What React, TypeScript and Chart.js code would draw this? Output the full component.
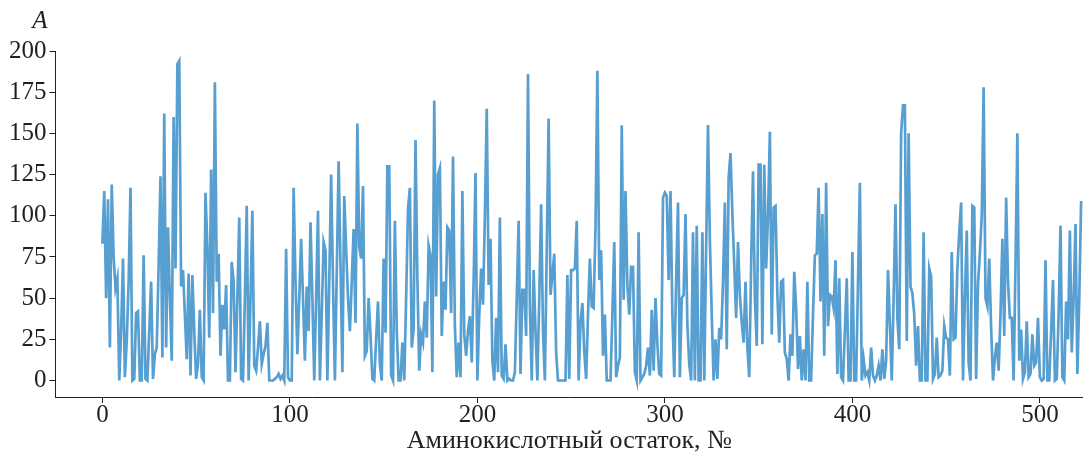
import { useEffect, useRef } from "react";
import { Chart, registerables } from "chart.js";

Chart.register(...registerables);

// Absorbance-like value per amino-acid residue (index = residue number)
const values: number[] = [
  83, 115, 50, 110, 20, 119, 75, 56, 62, 0,
  30, 74, 2, 24, 60, 117, 0, 1, 41, 42,
  0, 0, 76, 1, 0, 30, 60, 1, 16, 20,
  70, 124, 14, 162, 20, 93, 50, 12, 160, 68,
  192, 194, 57, 67, 40, 13, 65, 3, 64, 30,
  1, 10, 43, 2, 0, 114, 81, 26, 128, 41,
  181, 60, 77, 15, 46, 31, 58, 0, 0, 72,
  60, 5, 50, 99, 1, 0, 50, 106, 0, 50,
  103, 9, 6, 20, 36, 10, 16, 21, 35, 0,
  0, 0, 1, 2, 4, 1, 3, 0, 80, 2,
  0, 0, 117, 60, 16, 50, 86, 50, 12, 57,
  30, 96, 50, 0, 50, 103, 0, 40, 84, 79,
  0, 60, 125, 60, 0, 65, 133, 70, 5, 112,
  80, 50, 30, 60, 92, 35, 156, 81, 74, 118,
  15, 18, 50, 28, 1, 0, 25, 48, 10, 0,
  74, 29, 130, 130, 3, 0, 97, 30, 0, 0,
  23, 0, 50, 104, 117, 20, 31, 146, 62, 6,
  28, 23, 48, 26, 82, 76, 5, 170, 51, 125,
  129, 27, 60, 43, 93, 91, 41, 136, 33, 2,
  23, 2, 115, 28, 15, 30, 39, 11, 60, 126,
  0, 40, 68, 46, 100, 165, 58, 86, 12, 0,
  38, 5, 99, 3, 1, 22, 0, 1, 0, 0,
  5, 50, 97, 4, 55, 55, 27, 186, 45, 0,
  67, 30, 0, 50, 107, 30, 0, 80, 159, 52,
  64, 77, 17, 0, 0, 0, 0, 0, 64, 1,
  67, 67, 68, 97, 0, 35, 47, 18, 1, 40,
  74, 45, 44, 93, 188, 61, 79, 15, 40, 0,
  0, 0, 40, 84, 2, 9, 14, 155, 49, 115,
  58, 40, 69, 69, 5, 0, 90, 0, 2, 4,
  9, 20, 3, 43, 6, 50, 22, 4, 3, 111,
  114, 112, 61, 115, 40, 2, 60, 108, 2, 50,
  52, 101, 34, 10, 0, 90, 0, 94, 0, 0,
  90, 0, 80, 155, 85, 40, 0, 25, 1, 32,
  25, 60, 108, 19, 123, 138, 101, 70, 38, 84,
  52, 35, 23, 60, 20, 2, 70, 127, 50, 21,
  131, 131, 22, 131, 68, 100, 151, 28, 105, 106,
  52, 23, 60, 61, 17, 13, 0, 28, 15, 66,
  44, 7, 27, 0, 19, 0, 60, 0, 0, 40,
  76, 77, 117, 48, 101, 15, 120, 33, 52, 51,
  44, 73, 4, 62, 2, 0, 30, 62, 0, 0,
  78, 0, 0, 60, 120, 0, 13, 3, 5, 0,
  20, 3, 0, 3, 9, 0, 19, 1, 12, 67,
  34, 0, 50, 107, 38, 19, 150, 167, 167, 24,
  150, 57, 53, 40, 9, 33, 0, 0, 90, 0,
  0, 68, 63, 1, 4, 26, 2, 3, 6, 33,
  26, 25, 3, 78, 25, 26, 68, 90, 108, 0,
  50, 91, 11, 0, 106, 105, 1, 58, 77, 100,
  178, 50, 45, 74, 32, 0, 14, 23, 6, 40,
  86, 27, 111, 60, 38, 38, 0, 70, 150, 12,
  31, 1, 5, 36, 2, 4, 28, 9, 11, 38,
  2, 0, 1, 73, 0, 0, 30, 61, 0, 1,
  40, 94, 2, 0, 48, 25, 91, 17, 50, 95,
  4, 50, 109,
];

const xTickValues = [0, 100, 200, 300, 400, 500];
const yTickValues = [0, 25, 50, 75, 100, 125, 150, 175, 200];
const xTitle = "Аминокислотный остаток, №";
const yTitle = "A";

const FONT = '"Liberation Serif", "Times New Roman", serif';
const INK = "#231f20";

export default function App() {
  const ref = useRef<HTMLCanvasElement>(null);

  useEffect(() => {
    if (!ref.current) return;
    const yTitlePlugin = {
      id: "yTitleA",
      afterDraw(chart: any) {
        const { ctx, chartArea } = chart;
        ctx.save();
        ctx.font = `italic 25px ${FONT}`;
        ctx.fillStyle = INK;
        ctx.textAlign = "right";
        ctx.textBaseline = "alphabetic";
        ctx.fillText(yTitle, chartArea.left - 8, chartArea.top - 23);
        ctx.restore();
      },
    };

    const chart = new Chart(ref.current, {
      type: "line",
      data: {
        datasets: [
          {
            data: values.map((v, i) => ({ x: i, y: v })),
            borderColor: "#569fd0",
            borderWidth: 2.7,
            pointRadius: 0,
            tension: 0,
            fill: false,
          },
        ],
      },
      options: {
        animation: false,
        responsive: false,
        maintainAspectRatio: false,
        layout: { padding: { left: 6, right: 0, top: 51, bottom: 0 } },
        plugins: { legend: { display: false }, tooltip: { enabled: false } },
        scales: {
          x: {
            type: "linear",
            min: -25,
            max: 523,
            afterBuildTicks: (s: any) => {
              s.ticks = xTickValues.map((v) => ({ value: v }));
            },
            ticks: { font: { family: FONT, size: 25, lineHeight: 1.0 }, color: INK, padding: 0, maxRotation: 0 },
            grid: { display: true, drawOnChartArea: false, drawTicks: true, tickLength: 6, color: INK },
            border: { display: true, color: INK, width: 1 },
            title: {
              display: true,
              text: xTitle,
              font: { family: FONT, size: 26, lineHeight: 1.0 },
              color: INK,
              padding: { top: 0, bottom: 0 },
            },
          },
          y: {
            type: "linear",
            min: -10,
            max: 200,
            afterBuildTicks: (s: any) => {
              s.ticks = yTickValues.map((v) => ({ value: v }));
            },
            ticks: { font: { family: FONT, size: 25 }, color: INK, padding: 3 },
            grid: { display: true, drawOnChartArea: false, drawTicks: true, tickLength: 6, color: INK },
            border: { display: true, color: INK, width: 1 },
          },
        },
      },
      plugins: [yTitlePlugin],
    });
    return () => chart.destroy();
  }, []);

  return (
    <div style={{ position: "fixed", left: 0, top: 0, width: 1083, height: 454, background: "#fff" }}>
      <canvas ref={ref} width={1083} height={454} style={{ display: "block" }} />
    </div>
  );
}
